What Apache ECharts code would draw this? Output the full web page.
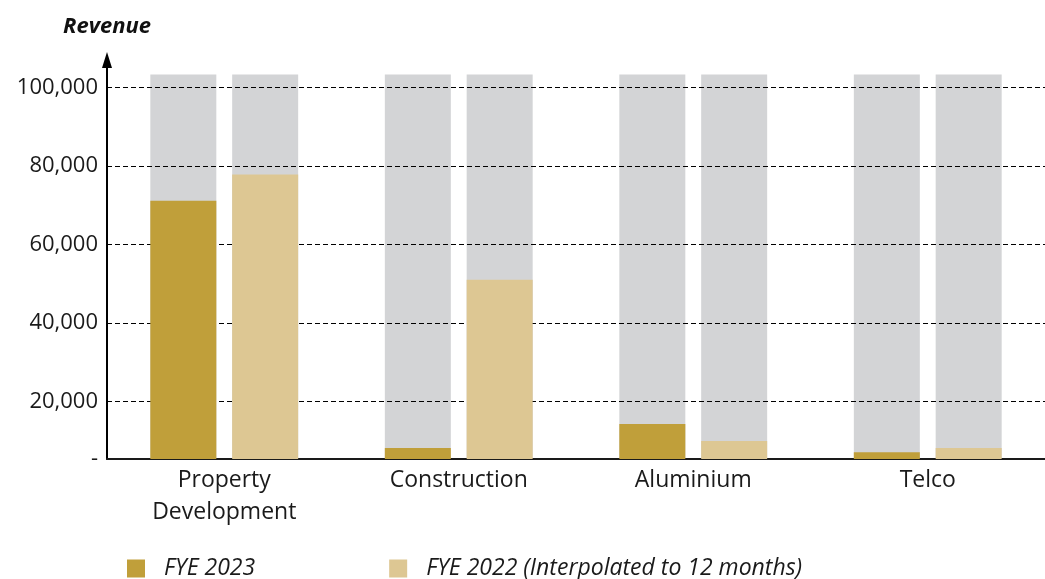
<!DOCTYPE html>
<html>
<head>
<meta charset="utf-8">
<script src="https://cdn.jsdelivr.net/npm/echarts@6/dist/echarts.min.js"></script>
<style>
html,body{margin:0;padding:0;background:#fff;}
#chart{width:1045px;height:579px;}
</style>
</head>
<body>
<div id="chart"></div>
<script>
var categories = ['Property\nDevelopment', 'Construction', 'Aluminium', 'Telco'];
var fye2023 = [71100, 8100, 14200, 7000];
var fye2022 = [77800, 51000, 9900, 8100];
var backdrop = [103300, 103300, 103300, 103300];
var yMin = 5300;
var yMax = 107000;
var yTicks = [20000, 40000, 60000, 80000, 100000];
var seriesNames = ['FYE 2023', 'FYE 2022 (Interpolated to 12 months)'];

var FONT = '"Open Sans", Lato, sans-serif';
var chart = echarts.init(document.getElementById('chart'), null, {renderer: 'canvas'});
chart.setOption({
  backgroundColor: '#ffffff',
  animation: false,
  grid: {left: 107, right: 0, top: 60, bottom: 120},
  legend: {
    left: 127, top: 557, padding: 0,
    itemWidth: 18, itemHeight: 18, itemGap: 134,
    icon: 'rect',
    data: seriesNames,
    textStyle: {fontFamily: FONT, fontSize: 23, fontStyle: 'italic', color: '#1a1a1a', padding: [8, 0, 0, 14]}
  },
  xAxis: [{
    type: 'category',
    data: categories,
    axisLine: {show: true, lineStyle: {color: '#1a1a1a', width: 2}},
    axisTick: {show: false},
    axisLabel: {fontFamily: FONT, fontSize: 23, color: '#1a1a1a', margin: 5, lineHeight: 32, interval: 0}
  }, {
    type: 'category',
    data: categories,
    show: false
  }],
  yAxis: {
    type: 'value',
    min: yMin,
    max: yMax,
    name: 'Revenue',
    nameLocation: 'end',
    nameGap: 22,
    nameTextStyle: {fontFamily: FONT, fontSize: 22, fontStyle: 'italic', fontWeight: 'bold', color: '#111'},
    axisLine: {show: true, symbol: ['none', 'triangle'], symbolSize: [10, 16], lineStyle: {color: '#000', width: 2}},
    axisTick: {show: false, customValues: yTicks},
    axisLabel: {
      customValues: [yMin].concat(yTicks),
      fontFamily: FONT, fontSize: 22, color: '#1a1a1a', margin: 9,
      formatter: function (v) { return v === yMin ? '-' : v.toLocaleString('en-US'); }
    },
    splitLine: {show: true, showMinLine: true, showMaxLine: true, lineStyle: {color: '#000', width: 1, type: [5, 3]}}
  },
  series: [{
    name: 'bg1', type: 'bar', xAxisIndex: 1, data: backdrop, barWidth: 66, barGap: '24%', z: -1,
    itemStyle: {color: '#d3d4d6'}, silent: true
  }, {
    name: 'bg2', type: 'bar', xAxisIndex: 1, data: backdrop, barWidth: 66, barGap: '24%', z: -1,
    itemStyle: {color: '#d3d4d6'}, silent: true
  }, {
    name: seriesNames[0], type: 'bar', xAxisIndex: 0, data: fye2023, barWidth: 66, barGap: '24%', z: 3,
    itemStyle: {color: '#c09f3a'}
  }, {
    name: seriesNames[1], type: 'bar', xAxisIndex: 0, data: fye2022, barWidth: 66, barGap: '24%', z: 3,
    itemStyle: {color: '#ddc793'}
  }]
});
</script>
</body>
</html>
